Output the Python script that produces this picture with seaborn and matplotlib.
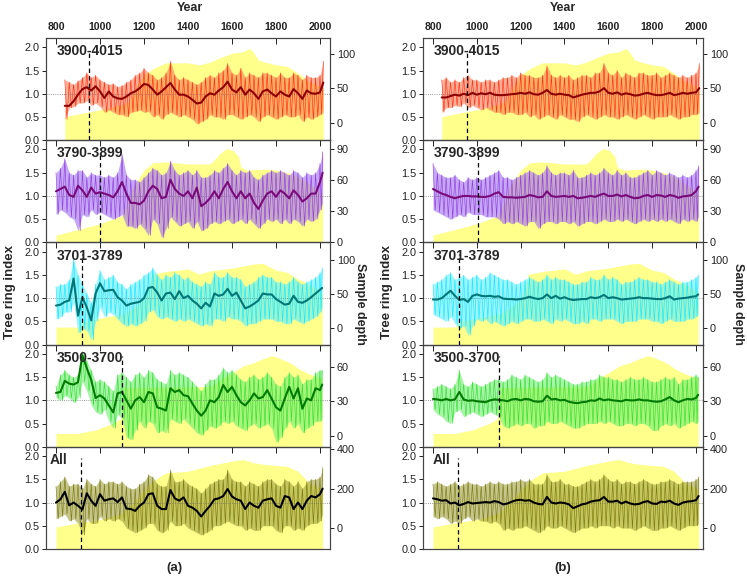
import seaborn as sns
import matplotlib.pyplot as plt
import numpy as np
import pandas as pd

sns.set_theme(style="white")
plt.rcParams['font.family'] = ['Liberation Sans', 'DejaVu Sans']
plt.rcParams['axes.edgecolor'] = '#444444'
plt.rcParams['axes.linewidth'] = 0.8

# ---- year grids (20-year steps, last value = end of chronology)
yrs1 = np.r_[np.arange(840, 2001, 20), 2015]
yrs2 = np.r_[np.arange(800, 2001, 20), 2012]
yrs3 = np.r_[np.arange(800, 2001, 20), 2010]
yrs4 = np.r_[np.arange(800, 2001, 20), 2010]
yrs5 = np.r_[np.arange(800, 2001, 20), 2012]

# ---- (a) smoothed chronologies
a1_smooth = [0.74, 0.74, 0.84, 0.98, 1.10, 1.14, 1.07, 1.16, 1.05, 0.91,
             1.05, 0.94, 0.90, 0.89, 0.94, 1.01, 1.05, 1.12, 1.21, 1.19,
             1.09, 0.98, 1.05, 1.14, 1.23, 1.09, 0.98, 0.98, 0.94, 0.87,
             0.79, 0.81, 0.94, 1.01, 0.98, 1.07, 1.14, 1.26, 1.09, 1.03,
             1.14, 0.98, 1.09, 1.01, 0.89, 1.05, 1.09, 1.01, 0.94, 1.05,
             0.98, 0.94, 1.10, 1.01, 0.89, 1.07, 1.01, 1.00, 1.03, 1.24]
a2_smooth = [1.10, 1.15, 1.20, 1.02, 0.98, 1.22, 1.12, 0.98, 1.18, 1.05,
             1.08, 1.05, 1.02, 0.97, 1.10, 1.30, 1.05, 0.85, 0.85, 0.82,
             0.90, 1.10, 1.22, 1.15, 0.95, 0.98, 1.35, 1.15, 1.05, 1.00,
             1.10, 0.95, 1.18, 0.78, 0.85, 0.95, 1.10, 0.95, 1.15, 1.30,
             1.10, 0.95, 1.10, 0.95, 1.05, 0.85, 0.72, 0.90, 1.05, 1.10,
             0.98, 1.12, 1.05, 0.95, 1.12, 1.02, 0.88, 0.95, 1.05, 1.05,
             1.30, 1.50]
a3_smooth = [0.84, 0.86, 0.92, 0.95, 1.42, 0.62, 1.02, 0.80, 0.52, 1.10,
             1.32, 1.15, 1.17, 1.18, 1.02, 0.95, 0.84, 0.88, 0.90, 0.92,
             1.00, 1.22, 1.24, 1.12, 0.95, 1.10, 1.12, 0.98, 1.15, 1.00,
             1.05, 0.95, 0.88, 0.78, 0.90, 0.82, 1.10, 1.05, 1.08, 1.20,
             1.05, 1.12, 0.95, 0.78, 0.82, 0.88, 0.95, 1.10, 1.08, 1.08,
             0.98, 0.92, 0.86, 0.88, 1.05, 0.92, 0.90, 0.95, 1.02, 1.10,
             1.18, 1.22]
a4_smooth = [1.16, 1.18, 1.42, 1.36, 1.34, 1.39, 1.97, 1.69, 1.44, 1.05,
             1.11, 1.04, 0.89, 0.74, 1.15, 1.18, 1.00, 0.82, 1.00, 1.07,
             0.96, 1.18, 1.15, 0.85, 0.82, 0.78, 1.26, 1.18, 1.22, 1.11,
             1.09, 0.93, 0.78, 0.67, 0.78, 1.00, 0.96, 1.07, 1.33, 1.18,
             1.29, 1.11, 0.96, 0.89, 1.00, 1.15, 1.04, 1.07, 1.22, 1.04,
             0.85, 0.78, 1.04, 1.29, 1.04, 1.26, 0.82, 1.04, 1.00, 1.26,
             1.22, 1.34]
a5_smooth = [1.00, 1.07, 1.23, 0.94, 1.00, 0.93, 0.85, 1.20, 1.04, 0.93,
             1.18, 1.04, 1.07, 1.09, 1.01, 1.11, 0.87, 0.86, 0.82, 0.93,
             1.00, 1.18, 1.20, 0.93, 0.86, 0.86, 1.27, 1.09, 1.04, 1.11,
             0.93, 0.89, 0.82, 0.70, 0.82, 0.93, 1.07, 1.09, 1.14, 1.29,
             1.13, 1.07, 1.04, 0.86, 1.00, 0.93, 0.89, 1.04, 1.07, 1.09,
             0.93, 0.89, 1.14, 1.11, 0.86, 1.00, 0.86, 1.04, 1.14, 1.11,
             1.18, 1.30]

# ---- (a) annual index envelope (upper / lower spikes)
a1_hi = [1.30, 1.25, 1.20, 1.28, 1.35, 1.45, 1.35, 1.40, 1.30, 1.25,
         1.20, 1.22, 1.15, 1.18, 1.25, 1.30, 1.40, 1.45, 1.55, 1.45,
         1.40, 1.30, 1.35, 1.45, 1.70, 1.40, 1.30, 1.35, 1.30, 1.25,
         1.20, 1.25, 1.35, 1.40, 1.35, 1.45, 1.50, 1.65, 1.45, 1.40,
         1.55, 1.35, 1.45, 1.40, 1.35, 1.45, 1.45, 1.40, 1.35, 1.45,
         1.35, 1.35, 1.45, 1.40, 1.30, 1.40, 1.35, 1.35, 1.40, 1.70]
a1_lo = [0.45, 0.70, 0.72, 0.80, 0.80, 0.85, 0.75, 0.80, 0.72, 0.60,
         0.65, 0.60, 0.55, 0.55, 0.50, 0.60, 0.62, 0.65, 0.60, 0.62,
         0.50, 0.55, 0.45, 0.55, 0.60, 0.55, 0.50, 0.55, 0.50, 0.45,
         0.35, 0.40, 0.45, 0.55, 0.50, 0.50, 0.45, 0.55, 0.55, 0.50,
         0.45, 0.50, 0.55, 0.50, 0.40, 0.50, 0.55, 0.50, 0.45, 0.50,
         0.55, 0.50, 0.50, 0.55, 0.40, 0.50, 0.45, 0.50, 0.55, 0.60]
a2_hi = [1.50, 1.60, 1.80, 1.50, 1.45, 1.55, 1.55, 1.40, 1.50, 1.45,
         1.45, 1.40, 1.45, 1.40, 1.50, 1.90, 1.45, 1.35, 1.35, 1.30,
         1.40, 1.50, 1.60, 1.55, 1.45, 1.50, 1.75, 1.55, 1.45, 1.50,
         1.55, 1.45, 1.55, 1.40, 1.40, 1.45, 1.55, 1.50, 1.60, 1.70,
         1.55, 1.45, 1.55, 1.50, 1.55, 1.40, 1.35, 1.45, 1.50, 1.55,
         1.50, 1.55, 1.50, 1.45, 1.55, 1.50, 1.40, 1.50, 1.45, 1.50,
         1.70, 1.95]
a2_lo = [0.60, 0.70, 0.65, 0.55, 0.50, 0.25, 0.60, 0.55, 0.70, 0.60,
         0.65, 0.60, 0.55, 0.50, 0.55, 0.60, 0.35, 0.35, 0.30, 0.40,
         0.30, 0.15, 0.50, 0.40, 0.10, 0.30, 0.55, 0.45, 0.35, 0.40,
         0.45, 0.30, 0.45, 0.25, 0.30, 0.40, 0.45, 0.40, 0.45, 0.50,
         0.40, 0.45, 0.50, 0.40, 0.50, 0.40, 0.30, 0.40, 0.50, 0.45,
         0.50, 0.40, 0.50, 0.40, 0.50, 0.45, 0.35, 0.50, 0.45, 0.50,
         0.70, 0.85]
a3_hi = [1.25, 1.30, 1.30, 1.40, 1.85, 1.50, 1.30, 1.10, 0.90, 1.30,
         1.60, 1.40, 1.45, 1.50, 1.35, 1.30, 1.20, 1.30, 1.35, 1.40,
         1.50, 1.55, 1.65, 1.50, 1.40, 1.50, 1.45, 1.55, 1.50, 1.40,
         1.45, 1.35, 1.30, 1.25, 1.35, 1.30, 1.55, 1.45, 1.45, 1.55,
         1.45, 1.45, 1.40, 1.25, 1.30, 1.35, 1.45, 1.50, 1.45, 1.45,
         1.35, 1.35, 1.30, 1.35, 1.45, 1.35, 1.30, 1.35, 1.40, 1.45,
         1.55, 1.65]
a3_lo = [0.55, 0.60, 0.70, 0.70, 0.90, 0.25, 0.35, 0.30, 0.10, 0.50,
         0.80, 0.60, 0.70, 0.65, 0.55, 0.45, 0.40, 0.45, 0.40, 0.45,
         0.50, 0.70, 0.75, 0.60, 0.55, 0.60, 0.55, 0.50, 0.55, 0.50,
         0.55, 0.50, 0.45, 0.40, 0.45, 0.40, 0.55, 0.55, 0.50, 0.60,
         0.55, 0.55, 0.50, 0.40, 0.45, 0.45, 0.50, 0.55, 0.55, 0.55,
         0.50, 0.50, 0.45, 0.45, 0.55, 0.50, 0.45, 0.50, 0.55, 0.60,
         0.70, 0.80]
a4_hi = [1.30, 1.55, 1.65, 1.55, 1.50, 1.55, 2.05, 1.85, 1.65, 1.40,
         1.45, 1.40, 1.30, 1.20, 1.55, 1.60, 1.50, 1.40, 1.55, 1.60,
         1.50, 1.65, 1.60, 1.45, 1.40, 1.35, 1.65, 1.55, 1.60, 1.55,
         1.50, 1.40, 1.30, 1.20, 1.35, 1.45, 1.45, 1.55, 1.70, 1.60,
         1.65, 1.55, 1.45, 1.40, 1.50, 1.55, 1.45, 1.50, 1.60, 1.50,
         1.35, 1.30, 1.50, 1.60, 1.50, 1.55, 1.35, 1.45, 1.45, 1.60,
         1.65, 1.65]
a4_lo = [1.05, 1.00, 1.10, 1.05, 0.95, 1.05, 1.40, 1.20, 0.90, 0.75,
         0.70, 0.80, 0.55, 0.40, 0.70, 0.60, 0.20, 0.15, 0.35, 0.55,
         0.40, 0.55, 0.50, 0.30, 0.35, 0.30, 0.60, 0.55, 0.50, 0.60,
         0.50, 0.40, 0.30, 0.25, 0.35, 0.45, 0.40, 0.45, 0.55, 0.50,
         0.55, 0.45, 0.40, 0.35, 0.45, 0.50, 0.40, 0.45, 0.50, 0.40,
         0.10, 0.20, 0.40, 0.55, 0.40, 0.50, 0.30, 0.40, 0.45, 0.55,
         0.55, 0.60]
a5_hi = [1.35, 1.45, 1.55, 1.35, 1.40, 1.40, 1.30, 1.50, 1.40, 1.35,
         1.50, 1.40, 1.45, 1.45, 1.40, 1.45, 1.35, 1.30, 1.30, 1.40,
         1.45, 1.60, 1.55, 1.40, 1.35, 1.35, 1.70, 1.45, 1.45, 1.50,
         1.40, 1.35, 1.30, 1.20, 1.30, 1.40, 1.45, 1.50, 1.50, 1.70,
         1.50, 1.45, 1.45, 1.35, 1.45, 1.40, 1.35, 1.45, 1.50, 1.50,
         1.40, 1.35, 1.50, 1.45, 1.35, 1.45, 1.30, 1.45, 1.50, 1.50,
         1.55, 1.75]
a5_lo = [0.65, 0.70, 0.75, 0.60, 0.65, 0.55, 0.30, 0.65, 0.55, 0.55,
         0.70, 0.60, 0.65, 0.60, 0.65, 0.60, 0.45, 0.40, 0.35, 0.40,
         0.45, 0.55, 0.55, 0.40, 0.35, 0.40, 0.60, 0.50, 0.50, 0.55,
         0.45, 0.40, 0.35, 0.30, 0.35, 0.40, 0.50, 0.50, 0.55, 0.60,
         0.55, 0.50, 0.50, 0.40, 0.45, 0.40, 0.40, 0.50, 0.50, 0.50,
         0.40, 0.35, 0.50, 0.50, 0.40, 0.45, 0.40, 0.50, 0.55, 0.55,
         0.60, 0.75]

# ---- (b) smoothed chronologies
b1_smooth = [0.92, 0.92, 0.95, 0.98, 0.96, 1.00, 0.97, 1.02, 0.98, 1.01,
             0.99, 1.02, 0.98, 0.97, 0.97, 0.98, 0.99, 1.00, 1.02, 1.00,
             1.03, 0.99, 0.98, 1.02, 1.08, 1.00, 0.98, 1.00, 0.98, 0.97,
             0.92, 0.95, 0.98, 1.00, 1.02, 1.02, 1.05, 1.12, 1.02, 1.00,
             1.03, 0.98, 1.01, 0.99, 0.96, 0.97, 1.00, 1.02, 0.99, 0.97,
             0.97, 0.99, 1.02, 0.97, 0.99, 1.02, 1.00, 1.02, 1.03, 1.12]
b2_smooth = [1.15, 1.10, 1.05, 1.02, 0.98, 0.95, 0.98, 1.00, 1.00, 0.99,
             0.99, 0.98, 0.98, 1.00, 1.05, 1.08, 0.98, 0.97, 0.97, 0.96,
             0.97, 0.98, 1.02, 1.00, 0.97, 0.98, 1.10, 1.00, 0.98, 0.99,
             1.00, 0.98, 1.00, 0.95, 0.96, 0.98, 1.00, 0.98, 1.02, 1.05,
             1.00, 1.00, 1.03, 0.99, 1.02, 0.98, 0.95, 0.96, 1.00, 1.02,
             0.98, 1.02, 1.01, 0.98, 1.02, 1.00, 0.96, 0.99, 1.00, 1.02,
             1.10, 1.20]
b3_smooth = [0.97, 0.97, 1.00, 1.08, 1.16, 1.05, 0.96, 0.98, 0.92, 1.05,
             1.08, 1.05, 1.04, 1.05, 1.03, 1.04, 0.99, 0.98, 0.98, 0.97,
             0.98, 1.00, 1.03, 1.00, 0.98, 1.00, 1.08, 1.00, 1.05, 0.99,
             1.02, 0.98, 0.96, 0.97, 0.98, 0.98, 1.02, 1.00, 1.02, 1.07,
             1.00, 1.02, 1.00, 0.97, 0.98, 0.99, 1.00, 1.02, 1.00, 1.00,
             0.99, 0.98, 0.98, 1.00, 1.04, 0.97, 0.99, 1.00, 1.01, 1.03,
             1.04, 1.08]
b4_smooth = [1.03, 1.02, 1.00, 1.03, 1.00, 1.02, 1.18, 1.02, 0.99, 1.00,
             0.98, 0.97, 0.96, 1.00, 1.02, 1.01, 1.00, 0.98, 1.02, 1.03,
             1.00, 1.03, 1.02, 0.98, 0.97, 0.98, 1.10, 1.02, 1.03, 1.00,
             1.01, 0.97, 0.95, 0.94, 0.96, 0.97, 1.00, 0.99, 1.04, 1.00,
             1.02, 1.00, 0.99, 0.98, 1.01, 1.00, 1.00, 1.02, 1.00, 1.00,
             0.98, 0.97, 0.98, 1.02, 1.07, 1.00, 0.96, 1.00, 1.03, 1.02,
             1.05, 1.12]
b5_smooth = [1.09, 1.07, 1.04, 1.05, 0.98, 1.00, 0.94, 0.97, 1.01, 0.98,
             0.99, 1.00, 1.01, 1.00, 1.03, 1.01, 0.96, 0.98, 1.02, 1.05,
             1.06, 1.04, 1.05, 1.00, 0.97, 0.96, 1.12, 1.00, 0.98, 1.00,
             0.99, 0.96, 0.88, 0.92, 0.96, 0.98, 1.02, 1.04, 1.05, 1.12,
             1.02, 1.02, 1.04, 0.98, 1.02, 0.98, 0.96, 0.97, 1.01, 1.03,
             0.98, 0.97, 1.02, 1.01, 1.04, 0.98, 0.95, 1.00, 1.02, 1.03,
             1.05, 1.14]

# ---- (b) annual index envelope
b1_hi = [1.30, 1.35, 1.25, 1.30, 1.25, 1.35, 1.40, 1.30, 1.30, 1.25,
         1.30, 1.30, 1.25, 1.30, 1.35, 1.35, 1.40, 1.35, 1.45, 1.40,
         1.40, 1.35, 1.35, 1.40, 1.60, 1.40, 1.35, 1.40, 1.35, 1.40,
         1.30, 1.35, 1.40, 1.40, 1.35, 1.45, 1.45, 1.65, 1.45, 1.40,
         1.50, 1.35, 1.45, 1.40, 1.35, 1.45, 1.45, 1.40, 1.40, 1.45,
         1.35, 1.40, 1.45, 1.40, 1.35, 1.40, 1.35, 1.40, 1.45, 1.65]
b1_lo = [0.60, 0.70, 0.70, 0.75, 0.72, 0.80, 0.70, 0.75, 0.70, 0.65,
         0.70, 0.65, 0.60, 0.60, 0.55, 0.60, 0.60, 0.55, 0.55, 0.60,
         0.50, 0.55, 0.45, 0.50, 0.55, 0.50, 0.45, 0.55, 0.50, 0.45,
         0.45, 0.40, 0.50, 0.55, 0.50, 0.45, 0.50, 0.55, 0.50, 0.50,
         0.45, 0.50, 0.55, 0.50, 0.45, 0.50, 0.55, 0.50, 0.45, 0.50,
         0.50, 0.50, 0.55, 0.50, 0.45, 0.50, 0.50, 0.55, 0.55, 0.60]
b2_hi = [1.70, 1.50, 1.45, 1.40, 1.40, 1.45, 1.35, 1.30, 1.40, 1.35,
         1.40, 1.35, 1.40, 1.45, 1.50, 1.55, 1.40, 1.40, 1.35, 1.40,
         1.45, 1.50, 1.55, 1.50, 1.45, 1.50, 1.65, 1.50, 1.45, 1.50,
         1.50, 1.45, 1.55, 1.40, 1.40, 1.45, 1.50, 1.45, 1.50, 1.60,
         1.50, 1.45, 1.55, 1.45, 1.50, 1.40, 1.40, 1.45, 1.50, 1.55,
         1.45, 1.55, 1.50, 1.45, 1.50, 1.45, 1.40, 1.45, 1.40, 1.45,
         1.55, 1.65]
b2_lo = [0.70, 0.65, 0.60, 0.55, 0.50, 0.55, 0.60, 0.55, 0.65, 0.60,
         0.60, 0.60, 0.55, 0.55, 0.55, 0.50, 0.40, 0.45, 0.40, 0.45,
         0.40, 0.35, 0.45, 0.45, 0.30, 0.40, 0.45, 0.45, 0.40, 0.45,
         0.45, 0.40, 0.45, 0.35, 0.40, 0.45, 0.45, 0.40, 0.45, 0.50,
         0.45, 0.45, 0.50, 0.45, 0.50, 0.45, 0.40, 0.45, 0.50, 0.45,
         0.50, 0.45, 0.50, 0.45, 0.50, 0.45, 0.40, 0.50, 0.45, 0.50,
         0.45, 0.55]
b3_hi = [1.30, 1.35, 1.40, 1.50, 1.55, 1.40, 1.45, 1.50, 1.40, 1.45,
         1.50, 1.40, 1.45, 1.55, 1.50, 1.45, 1.40, 1.40, 1.35, 1.30,
         1.35, 1.40, 1.45, 1.40, 1.35, 1.40, 1.50, 1.40, 1.45, 1.40,
         1.40, 1.35, 1.30, 1.30, 1.35, 1.35, 1.45, 1.40, 1.40, 1.50,
         1.40, 1.45, 1.40, 1.30, 1.35, 1.35, 1.40, 1.45, 1.40, 1.40,
         1.35, 1.35, 1.30, 1.35, 1.40, 1.35, 1.30, 1.35, 1.35, 1.40,
         1.45, 1.50]
b3_lo = [0.65, 0.60, 0.55, 0.50, 0.60, 0.45, 0.35, 0.40, 0.20, 0.40,
         0.55, 0.50, 0.55, 0.45, 0.50, 0.45, 0.40, 0.45, 0.50, 0.45,
         0.50, 0.55, 0.55, 0.50, 0.50, 0.55, 0.50, 0.45, 0.55, 0.50,
         0.55, 0.50, 0.45, 0.45, 0.50, 0.45, 0.55, 0.55, 0.50, 0.55,
         0.55, 0.55, 0.50, 0.45, 0.50, 0.50, 0.50, 0.55, 0.55, 0.55,
         0.50, 0.50, 0.45, 0.50, 0.55, 0.50, 0.50, 0.50, 0.55, 0.55,
         0.60, 0.65]
b4_hi = [1.25, 1.30, 1.35, 1.30, 1.25, 1.35, 1.65, 1.35, 1.30, 1.40,
         1.35, 1.30, 1.35, 1.40, 1.45, 1.45, 1.40, 1.45, 1.55, 1.50,
         1.45, 1.55, 1.50, 1.45, 1.40, 1.45, 1.60, 1.50, 1.55, 1.50,
         1.45, 1.40, 1.35, 1.35, 1.40, 1.40, 1.45, 1.45, 1.55, 1.50,
         1.50, 1.45, 1.45, 1.40, 1.45, 1.50, 1.45, 1.45, 1.50, 1.45,
         1.40, 1.40, 1.45, 1.50, 1.45, 1.50, 1.35, 1.45, 1.45, 1.50,
         1.55, 1.50]
b4_lo = [0.80, 0.70, 0.65, 0.55, 0.50, 0.75, 0.80, 0.65, 0.70, 0.75,
         0.70, 0.65, 0.70, 0.75, 0.70, 0.65, 0.45, 0.40, 0.45, 0.50,
         0.45, 0.50, 0.50, 0.40, 0.45, 0.45, 0.55, 0.50, 0.50, 0.55,
         0.50, 0.45, 0.40, 0.40, 0.45, 0.50, 0.50, 0.50, 0.55, 0.50,
         0.55, 0.50, 0.45, 0.45, 0.50, 0.50, 0.45, 0.50, 0.50, 0.45,
         0.35, 0.35, 0.45, 0.50, 0.45, 0.50, 0.40, 0.45, 0.50, 0.55,
         0.50, 0.55]
b5_hi = [1.40, 1.45, 1.40, 1.35, 1.40, 1.45, 1.35, 1.40, 1.45, 1.40,
         1.40, 1.35, 1.40, 1.45, 1.40, 1.45, 1.40, 1.40, 1.45, 1.45,
         1.50, 1.45, 1.50, 1.40, 1.40, 1.40, 1.60, 1.45, 1.45, 1.50,
         1.40, 1.40, 1.35, 1.35, 1.40, 1.45, 1.50, 1.45, 1.50, 1.60,
         1.50, 1.45, 1.50, 1.40, 1.45, 1.45, 1.40, 1.45, 1.50, 1.45,
         1.40, 1.40, 1.45, 1.45, 1.50, 1.45, 1.40, 1.45, 1.45, 1.45,
         1.50, 1.55]
b5_lo = [0.70, 0.65, 0.70, 0.65, 0.55, 0.60, 0.55, 0.65, 0.70, 0.60,
         0.65, 0.60, 0.60, 0.55, 0.60, 0.55, 0.40, 0.45, 0.40, 0.45,
         0.45, 0.50, 0.45, 0.40, 0.35, 0.40, 0.50, 0.45, 0.45, 0.50,
         0.45, 0.40, 0.35, 0.40, 0.45, 0.45, 0.50, 0.45, 0.50, 0.50,
         0.50, 0.45, 0.50, 0.45, 0.45, 0.45, 0.40, 0.45, 0.50, 0.45,
         0.40, 0.40, 0.45, 0.45, 0.50, 0.45, 0.40, 0.45, 0.50, 0.50,
         0.50, 0.55]

# ---- sample depth (shared by (a) and (b))
d1_yrs = [840, 900, 1000, 1100, 1130, 1150, 1200, 1250, 1300, 1400, 1450, 1500, 1550,
          1600, 1650, 1680, 1700, 1720, 1750, 1800, 1850, 1900, 1950, 2000, 2015]
d1_val = [9, 13, 19, 27, 31, 45, 70, 80, 87, 87, 84, 88, 95,
          101, 103, 108, 101, 91, 88, 84, 82, 72, 60, 53, 50]
d2_yrs = [800, 1000, 1100, 1150, 1200, 1240, 1300, 1400, 1500, 1520, 1545, 1575,
          1605, 1630, 1640, 1670, 1760, 1800, 1860, 1910, 1970, 2000, 2012]
d2_val = [7, 18, 26, 54, 70, 77, 78, 76, 76, 80, 86, 91,
          89, 83, 73, 70, 71, 70, 67, 63, 54, 49, 47]
d3_yrs = [800, 905, 915, 1000, 1100, 1150, 1200, 1220, 1235, 1300, 1400, 1450,
          1500, 1600, 1700, 1740, 1800, 1850, 1900, 1950, 2000, 2010]
d3_val = [2, 2, 10, 15, 21, 30, 43, 60, 79, 83, 87, 79,
          84, 88, 94, 95, 85, 82, 72, 65, 55, 52]
d4_yrs = [800, 900, 980, 1060, 1095, 1100, 1500, 1520, 1560, 1600, 1650,
          1700, 1750, 1780, 1800, 1850, 1880, 1900, 1950, 2000, 2010]
d4_val = [2, 2, 5, 11, 15, 42, 43, 45, 51, 55, 61,
          64, 68, 70, 69, 65, 62, 59, 54, 51, 50]
d5_yrs = [800, 900, 1000, 1100, 1150, 1200, 1250, 1300, 1400, 1500,
          1600, 1650, 1700, 1750, 1800, 1850, 1900, 1950, 2000, 2012]
d5_val = [7, 27, 44, 77, 128, 195, 245, 279, 287, 316,
          338, 346, 329, 321, 316, 312, 287, 229, 203, 195]

labels = ['3900-4015', '3790-3899', '3701-3789', '3500-3700', 'All']
cutoff_a = [950, 1000, 920, 1100, 915]
cutoff_b = [955, 1005, 919, 1100, 915]
thin_col = ['#FF1A00', '#8A2BE2', '#00E8FF', '#22DD22', '#6E6E00']
light_col = ['#FF7A50', '#A070EE', '#60EEFF', '#70EE70', '#A0A040']
smooth_col = ['#8B0000', '#7A0A7A', '#007777', '#007A00', '#000000']
depth_lim = [(-25, 123), (0, 99), (-23.5, 125.5), (-9.7, 79.7), (-104, 410)]
depth_ticks = [[0, 50, 100], [0, 30, 60, 90], [0, 50, 100], [0, 30, 60], [0, 200, 400]]

years = [yrs1, yrs2, yrs3, yrs4, yrs5]
depths = [(d1_yrs, d1_val), (d2_yrs, d2_val), (d3_yrs, d3_val), (d4_yrs, d4_val), (d5_yrs, d5_val)]
col_a = dict(smooth=[a1_smooth, a2_smooth, a3_smooth, a4_smooth, a5_smooth],
             hi=[a1_hi, a2_hi, a3_hi, a4_hi, a5_hi], lo=[a1_lo, a2_lo, a3_lo, a4_lo, a5_lo],
             cut=cutoff_a, px=(46, 330), xlim=(754.5, 2045.5), all_x=0.012)
col_b = dict(smooth=[b1_smooth, b2_smooth, b3_smooth, b4_smooth, b5_smooth],
             hi=[b1_hi, b2_hi, b3_hi, b4_hi, b5_hi], lo=[b1_lo, b2_lo, b3_lo, b4_lo, b5_lo],
             cut=cutoff_b, px=(423, 703), xlim=(754.4, 2032), all_x=0.036)

W, H = 747, 578
top_px, ph = 38, 102.2
fig = plt.figure(figsize=(W / 100, H / 100), dpi=100)

for col in (col_a, col_b):
    l, r = col['px']
    for i in range(5):
        bot = top_px + (i + 1) * ph
        ax = fig.add_axes([l / W, 1 - bot / H, (r - l) / W, ph / H])
        ax2 = ax.twinx()
        ax.set_zorder(ax2.get_zorder() + 1)
        ax.patch.set_visible(False)

        # sample depth
        dy, dv = depths[i]
        ax2.fill_between(dy, depth_lim[i][0], dv, color='#FFFF8C', lw=0)
        ax2.set_ylim(depth_lim[i])
        ax2.set_yticks(depth_ticks[i])
        ax2.tick_params(axis='y', direction='out', length=3, width=0.7, pad=2,
                        labelsize=7.8, colors='#222222')

        # annual series: envelope band + spiky trace
        yr = np.asarray(years[i], dtype=float)
        hi = np.asarray(col['hi'][i])
        lo = np.asarray(col['lo'][i])
        ax.fill_between(yr, lo, hi, color=light_col[i], alpha=0.6, lw=0)
        mid = (yr[:-1] + yr[1:]) / 2
        zx = np.r_[np.column_stack([yr[:-1], mid]).ravel(), yr[-1]]
        zy = np.r_[np.column_stack([hi[:-1], lo[:-1]]).ravel(), hi[-1]]
        sns.lineplot(x=zx, y=zy, ax=ax, color=thin_col[i], lw=0.45, alpha=0.85,
                     estimator=None, sort=False)
        sns.lineplot(x=yr, y=col['smooth'][i], ax=ax, color=smooth_col[i],
                     lw=1.5, estimator=None)

        ax.axhline(1.0, color='#777777', lw=0.6, ls=':', zorder=1)
        ax.vlines(col['cut'][i], 0, 1.95, colors='black', lw=0.9,
                  linestyles=(0, (3.5, 2.5)), zorder=4)

        lx = col['all_x'] if labels[i] == 'All' else 0.038
        ax.text(lx, 0.94, labels[i], transform=ax.transAxes, fontsize=10,
                fontweight='bold', va='top', ha='left', zorder=5)

        ax.set_xlim(col['xlim'])
        ax.set_ylim(0, 2.2)
        ax.set_xticks(np.arange(800, 2001, 200))
        ax.set_yticks([0, 0.5, 1.0, 1.5, 2.0])
        ax.set_yticklabels(['0.0', '0.5', '1.0', '1.5', '2.0'])
        ax.set_xlabel('')
        ax.set_ylabel('')
        ax.tick_params(axis='y', direction='out', length=3, width=0.7, pad=1.5,
                       labelsize=7.8, colors='#222222', left=True)
        ax.tick_params(axis='x', direction='in', length=4, width=0.7, top=True,
                       bottom=False, labelbottom=False, labeltop=(i == 0),
                       labelsize=7.6, pad=4, colors='#222222')
        if i == 0:
            ax.set_xticklabels([str(v) for v in range(800, 2001, 200)],
                               fontweight='bold')
        for sp in list(ax.spines.values()) + list(ax2.spines.values()):
            sp.set_color('#444444')
            sp.set_linewidth(0.8)

# figure-level labels
for xc in (0.254, 0.753):
    fig.text(xc, 0.987, 'Year', ha='center', va='center', fontsize=9, fontweight='bold')
fig.text(0.234, 0.017, '(a)', ha='center', va='center', fontsize=9.5, fontweight='bold')
fig.text(0.754, 0.017, '(b)', ha='center', va='center', fontsize=9.5, fontweight='bold')
for xc in (0.0134, 0.5176):
    fig.text(xc, 0.494, 'Tree ring index', rotation=90, ha='center', va='center',
             fontsize=9.5, fontweight='bold')
for xc in (0.4825, 0.9885):
    fig.text(xc, 0.474, 'Sample depth', rotation=270, ha='center', va='center',
             fontsize=9, fontweight='bold')

fig.savefig('out.png', dpi=100)
